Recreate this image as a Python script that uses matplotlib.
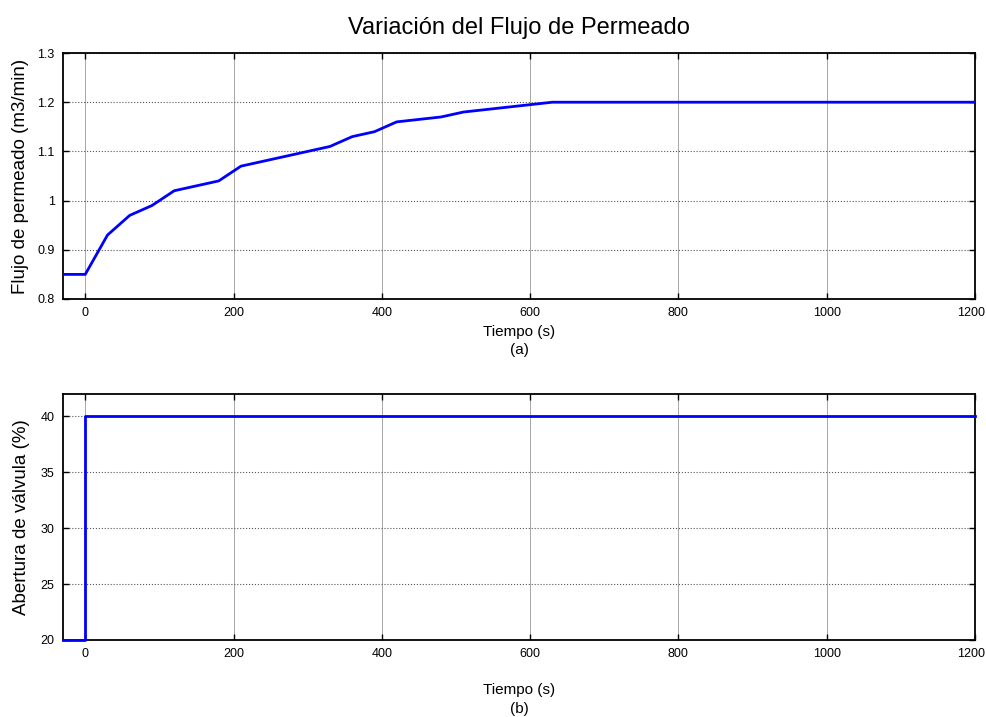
import matplotlib
matplotlib.use('Agg')
import matplotlib.pyplot as plt
import matplotlib.transforms as mtransforms
from matplotlib import font_manager

# datos
tiempo_flujo = [-30, 0, 30, 60, 90, 120, 180, 210, 240, 270, 300, 330, 360, 390, 420, 480, 510, 630, 1200]
flujo = [0.85, 0.85, 0.93, 0.97, 0.99, 1.02, 1.04, 1.07, 1.08, 1.09, 1.10, 1.11, 1.13, 1.14, 1.16, 1.17, 1.18, 1.20, 1.20]

tiempo_valv = [-30, 0, 0, 1200]
apertura = [20, 20, 40, 40]

xticks = [0, 200, 400, 600, 800, 1000, 1200]
yticks_flujo = [0.8, 0.9, 1.0, 1.1, 1.2, 1.3]
ytick_labels_flujo = ['0.8', '0.9', '1', '1.1', '1.2', '1.3']
yticks_valv = [20, 25, 30, 35, 40]

# fuente estrecha si existe
nombres = {f.name for f in font_manager.fontManager.ttflist}
narrow = 'Liberation Sans Narrow' if 'Liberation Sans Narrow' in nombres else 'Liberation Sans'
regular = 'Liberation Sans'

fig = plt.figure(figsize=(9.87, 7.17), dpi=100)
ax1 = fig.add_axes([63/987, 1 - 299/717, 912/987, 246/717])
ax2 = fig.add_axes([63/987, 1 - 640/717, 912/987, 246/717])

def estilo(ax, yticks, ylabels=None):
    ax.set_xlim(-30, 1200)
    ax.set_xticks(xticks)
    ax.set_yticks(yticks)
    if ylabels:
        ax.set_yticklabels(ylabels)
    ax.tick_params(direction='in', top=True, right=True, length=4, width=1,
                   labelsize=9, pad=6)
    for lab in ax.get_xticklabels() + ax.get_yticklabels():
        lab.set_fontfamily(narrow)
    # la etiqueta 1200 un poco a la izquierda para que no se corte
    ult = ax.get_xticklabels()[-1]
    ult.set_transform(ult.get_transform() +
                      mtransforms.ScaledTranslation(-4/100, 0, fig.dpi_scale_trans))
    ax.xaxis.grid(True, linestyle='-', color='#999999', linewidth=0.6)
    ax.yaxis.grid(True, linestyle=':', color='#555555', linewidth=0.8)
    for s in ax.spines.values():
        s.set_linewidth(1.3)

ax1.plot(tiempo_flujo, flujo, color='#0000ff', linewidth=2, zorder=3)
ax1.set_ylim(0.8, 1.3)
estilo(ax1, yticks_flujo, ytick_labels_flujo)
ax1.set_ylabel('Flujo de permeado (m3/min)', fontsize=13.5, family=regular, labelpad=6)

ax2.plot(tiempo_valv, apertura, color='#0000ff', linewidth=2, zorder=3, clip_on=False)
ax2.set_ylim(20, 42)
estilo(ax2, yticks_valv)
ax2.set_ylabel('Abertura de válvula (%)', fontsize=13.5, family=regular, labelpad=8)

fig.text(519/987, 1 - 28/717, 'Variación del Flujo de Permeado', ha='center', va='center',
         fontsize=17, family=narrow)
fig.text(519/987, 1 - 332/717, 'Tiempo (s)', ha='center', va='center', fontsize=11, family=narrow)
fig.text(519/987, 1 - 350/717, '(a)', ha='center', va='center', fontsize=11, family=narrow)
fig.text(519/987, 1 - 690/717, 'Tiempo (s)', ha='center', va='center', fontsize=11, family=narrow)
fig.text(519/987, 1 - 709/717, '(b)', ha='center', va='center', fontsize=11, family=narrow)

fig.savefig('out.png', dpi=100, facecolor='white')
